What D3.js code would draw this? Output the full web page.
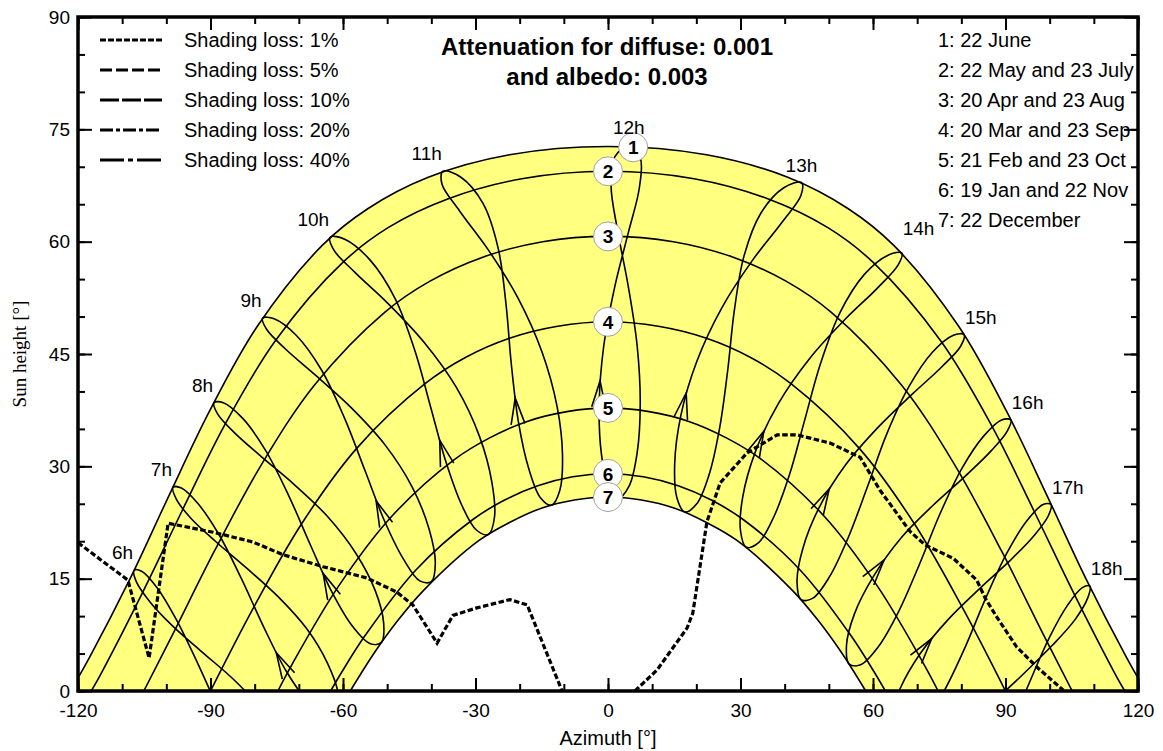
<!DOCTYPE html>
<html>
<head>
<meta charset="utf-8">
<script src="https://cdn.jsdelivr.net/npm/d3@7"></script>
<style>
  body { margin: 0; background: #fff; }
  text { font-family: "Liberation Sans", Arial, sans-serif; }
</style>
</head>
<body>
<div id="chart"></div>
<script>
// sun paths for the 7 dates (azimuth / sun height in degrees)
var pathAz = [
  [-121.7,-117.3,-108.2,-99.4,-90.2,-79.4,-64.7,-54.4,-40.7,-22.3,0,22.3,40.7,54.4,64.7,79.4,90.2,99.4,108.2,117.3,121.7],
  [-117.0,-114.8,-105.5,-96.4,-86.8,-75.4,-60.1,-49.7,-36.3,-19.5,0,19.5,36.3,49.7,60.1,75.4,86.8,96.4,105.5,114.8,117.0],
  [-105.1,-98.7,-89.1,-78.7,-66.4,-50.5,-40.4,-28.5,-14.8,0,14.8,28.5,40.4,50.5,66.4,78.7,89.1,98.7,105.1],
  [-90,-80.1,-69.4,-56.9,-41.5,-32.4,-22.3,-11.4,0,11.4,22.3,32.4,41.5,56.9,69.4,80.1,90],
  [-74.75,-71.5,-61.0,-49.0,-34.8,-26.8,-18.3,-9.3,0,9.3,18.3,26.8,34.8,49.0,61.0,71.5,74.75],
  [-62.8,-60.2,-55.0,-43.6,-30.6,-23.4,-15.9,-8.0,0,8.0,15.9,23.4,30.6,43.6,55.0,60.2,62.8],
  [-58.35,-52.9,-47.6,-41.8,-29.2,-22.3,-15.1,-7.6,0,7.6,15.1,22.3,29.2,41.8,47.6,52.9,58.35]
];
var pathH = [
  [0,4.6,15.0,26.1,37.4,48.7,59.5,64.4,68.6,71.6,72.7,71.6,68.6,64.4,59.5,48.7,37.4,26.1,15.0,4.6,0],
  [0,2.3,13.0,24.1,35.5,46.7,57.2,61.9,65.7,68.4,69.4,68.4,65.7,61.9,57.2,46.7,35.5,24.1,13.0,2.3,0],
  [0,7.4,18.7,30.0,40.9,50.6,54.7,57.9,60.0,60.7,60.0,57.9,54.7,50.6,40.9,30.0,18.7,7.4,0],
  [0,11.3,22.3,32.4,41.0,44.5,47.1,48.7,49.3,48.7,47.1,44.5,41.0,32.4,22.3,11.3,0],
  [0,3.6,14.0,23.3,30.9,33.8,36.0,37.3,37.8,37.3,36.0,33.8,30.9,23.3,14.0,3.6,0],
  [0,2.6,7.4,16.1,22.9,25.5,27.4,28.6,29.0,28.6,27.4,25.5,22.9,16.1,7.4,2.6,0],
  [0,5.1,9.4,13.4,20.1,22.5,24.4,25.5,25.9,25.5,24.4,22.5,20.1,13.4,9.4,5.1,0]
];
var markerAz = [5.7, 0, 0, 0, 0, 0, 0];
var markerH = [72.6, 69.4, 60.7, 49.3, 37.8, 29.0, 25.9];
var dateLabels = ["1: 22 June", "2: 22 May and 23 July", "3: 20 Apr and 23 Aug",
  "4: 20 Mar and 23 Sep", "5: 21 Feb and 23 Oct", "6: 19 Jan and 22 Nov", "7: 22 December"];

// hour lines over the year (22 Jun, 12 Jul, 1 Aug ... 1 Jun)
var hours = [6, 7, 8, 9, 10, 11, 12, 13, 14, 15, 16, 17, 18];
var hourAz = [
  [-107.3,-106.8,-103.7,-98.6,-91.9,-84.7,-78.2,-73.2,-70.5,-70.4,-72.9,-77.3,-82.6,-87.9,-92.9,-97.7,-102.1,-105.6],
  [-98.5,-97.8,-94.5,-88.9,-82.0,-74.7,-68.2,-63.5,-61.1,-61.3,-63.8,-67.9,-72.9,-78.0,-83.0,-88.0,-92.8,-96.6],
  [-89.2,-88.4,-84.6,-78.5,-71.1,-63.5,-57.1,-52.7,-50.8,-51.3,-53.8,-57.8,-62.5,-67.3,-72.3,-77.5,-82.7,-87.1],
  [-78.2,-77.3,-72.9,-66.1,-58.1,-50.4,-44.3,-40.5,-39.1,-40.0,-42.6,-46.3,-50.6,-55.0,-59.7,-64.9,-70.6,-75.6],
  [-62.9,-62.1,-57.3,-49.9,-41.7,-34.3,-29.1,-26.3,-25.7,-27.1,-29.8,-33.1,-36.7,-40.1,-43.7,-48.2,-53.8,-59.5],
  [-37.4,-37.6,-33.6,-27.1,-20.4,-14.9,-11.5,-10.3,-10.9,-12.8,-15.3,-18.0,-20.3,-21.9,-23.1,-24.9,-28.3,-33.3],
  [4.7,1.6,0.7,2.2,4.6,6.6,7.3,6.6,4.8,2.4,0.1,-1.5,-2.0,-1.0,1.5,4.6,7.1,7.3],
  [43.8,39.8,34.6,30.8,28.6,27.1,25.3,22.9,20.1,17.4,15.6,15.1,16.5,20.1,25.8,32.7,39.4,43.7],
  [66.5,63.4,58.0,52.5,48.1,44.5,41.1,37.5,34.1,31.3,30.0,30.5,33.4,38.6,45.8,53.8,61.0,65.7],
  [80.6,78.2,73.4,68.1,63.1,58.7,54.4,50.2,46.4,43.7,42.8,44.1,47.8,53.8,61.3,69.0,75.6,79.8],
  [91.2,89.1,85.0,80.1,75.2,70.5,65.8,61.2,57.2,54.6,54.0,55.8,60.1,66.3,73.6,80.9,86.8,90.4],
  [100.3,98.5,94.8,90.3,85.6,80.9,76.0,71.1,66.9,64.2,63.9,66.2,70.7,77.1,84.2,91.0,96.4,99.7],
  [109.1,107.4,104.1,99.9,95.4,90.7,85.6,80.4,75.9,73.2,73.1,75.6,80.5,87.0,94.1,100.6,105.7,108.6]
];
var hourH = [
  [16.1,14.6,11.9,8.7,5.2,1.5,-2.6,-6.8,-10.7,-13.3,-14.0,-12.4,-8.4,-2.7,3.7,9.5,13.8,16.0],
  [27.2,25.7,23.1,20.0,16.5,12.6,8.3,3.7,-0.3,-2.9,-3.5,-1.5,2.7,8.6,15.0,20.8,25.0,27.1],
  [38.5,37.0,34.5,31.3,27.6,23.3,18.4,13.4,9.1,6.5,6.3,8.6,13.2,19.4,26.1,32.1,36.4,38.5],
  [49.8,48.3,45.6,42.1,37.8,32.8,27.2,21.6,17.1,14.6,14.7,17.6,22.7,29.4,36.5,42.9,47.5,49.7],
  [60.6,58.9,55.9,51.8,46.6,40.5,34.0,27.9,23.2,20.9,21.5,24.8,30.6,37.8,45.4,52.4,57.5,60.3],
  [69.4,67.7,64.1,58.9,52.5,45.2,37.9,31.5,26.8,24.8,25.8,29.8,36.0,43.7,51.7,59.2,65.1,68.6],
  [72.7,71.4,67.4,61.4,54.0,46.1,38.4,31.8,27.4,25.8,27.3,31.7,38.2,45.9,53.9,61.2,67.2,71.2],
  [67.9,67.2,63.8,58.1,50.8,42.8,35.2,28.9,25.0,23.9,25.8,30.3,36.8,44.0,51.2,57.5,62.6,66.2],
  [58.5,58.2,55.6,50.5,43.7,36.1,28.9,23.2,19.8,19.2,21.4,25.9,32.0,38.4,44.5,49.7,53.8,56.9],
  [47.6,47.5,45.2,40.6,34.3,27.2,20.5,15.3,12.4,12.2,14.6,19.0,24.5,30.2,35.3,39.7,43.3,46.0],
  [36.2,36.2,34.0,29.7,23.7,16.9,10.6,5.9,3.5,3.6,6.1,10.3,15.3,20.4,24.8,28.7,32.1,34.7],
  [24.9,24.9,22.7,18.4,12.5,5.9,-0.1,-4.5,-6.5,-6.2,-3.6,0.4,5.0,9.6,13.7,17.4,20.7,23.4],
  [14.0,13.8,11.5,7.1,1.1,-5.4,-11.3,-15.5,-17.3,-16.7,-14.2,-10.4,-6.0,-1.7,2.3,6.1,9.5,12.4]
];

// direction arrows (tip and a point just behind it), hours 7h..17h
var arrowAz = [-75.1,-64.5,-52.5,-38.1,-21.0,-1.8,17.7,35.3,50.1,62.5,73.3];
var arrowH = [5.1,15.7,25.4,33.5,39.1,41.4,39.8,34.7,27.0,17.5,7.0];
var arrowBackAz = [-74.3,-63.8,-51.8,-37.6,-20.8,-1.9,17.3,34.6,49.3,61.6,72.4];
var arrowBackH = [4.2,14.8,24.4,32.5,38.0,40.3,38.7,33.8,26.1,16.8,6.3];

// shading loss 1% line
var lossLeftAz = [-120,-108.7,-103.9,-99.6,-89.4,-80.4,-73.6,-64.5,-54.6,-47.8,-44.2,-38.7,-35.1,-29.7,-22.2,-18.3,-10.4];
var lossLeftH = [19.8,14.8,4.4,22.4,21.2,19.9,18.2,16.6,15.1,13.2,11.5,6.4,10.1,11.1,12.2,11.5,0];
var lossRightAz = [6.1,11.1,17.9,19.2,22.4,25.4,31.5,38.3,42.8,50.3,57.1,61.6,68.4,71.8,78.2,83.5,85.4,88.0,92.5,97.1,103.1];
var lossRightH = [0,2.8,8.4,10.4,22.6,27.8,31.8,34.2,34.2,33.1,31.2,26.8,21.3,19.5,17.7,14.8,12.4,9.9,5.9,3.2,0.1];

var legendLabels = ["Shading loss: 1%", "Shading loss: 5%", "Shading loss: 10%", "Shading loss: 20%", "Shading loss: 40%"];
var legendDash = ["6,2", "12,4", "19,3", "13,3,4,3", "24,4,5,4"];

var xMajor = [-120, -90, -60, -30, 0, 30, 60, 90, 120];
var xMinor = d3.range(-120, 121, 10);
var yMajor = [0, 15, 30, 45, 60, 75, 90];
var yMinor = d3.range(0, 91, 5);

var width = 1163, height = 751;
var x = d3.scaleLinear().domain([-120, 120]).range([78, 1138]);
var y = d3.scaleLinear().domain([0, 90]).range([691, 17]);

var svg = d3.select("#chart").append("svg")
  .attr("width", width)
  .attr("height", height);

svg.append("clipPath").attr("id", "plot")
  .append("rect")
  .attr("x", x(-120)).attr("y", y(90))
  .attr("width", x(120) - x(-120))
  .attr("height", y(0) - y(90));

var g = svg.append("g").attr("clip-path", "url(#plot)");

function pts(az, h) {
  return az.map(function (a, i) { return [x(a), y(h[i])]; });
}
var smooth = d3.line().curve(d3.curveCatmullRom.alpha(0.5));
var loop = d3.line().curve(d3.curveCatmullRomClosed.alpha(0.5));
var straight = d3.line();

// yellow band between 22 June and 22 December
var outer = smooth(pts(pathAz[0], pathH[0]));
var inner = smooth(pts(pathAz[6].slice().reverse(), pathH[6].slice().reverse()));
g.append("path")
  .attr("d", outer + "L" + inner.slice(1) + "Z")
  .attr("fill", "#ffff80");

// date lines
pathAz.forEach(function (az, i) {
  g.append("path")
    .attr("d", smooth(pts(az, pathH[i])))
    .attr("fill", "none")
    .attr("stroke", "#000")
    .attr("stroke-width", 1.6);
});

// hour lines
hourAz.forEach(function (az, i) {
  g.append("path")
    .attr("d", loop(pts(az, hourH[i])))
    .attr("fill", "none")
    .attr("stroke", "#000")
    .attr("stroke-width", 1.6);
});

// arrows
arrowAz.forEach(function (a, i) {
  var p = [x(a), y(arrowH[i])];
  var q = [x(arrowBackAz[i]), y(arrowBackH[i])];
  var ang = Math.atan2(q[1] - p[1], q[0] - p[0]);
  var legs = [-0.26, 0.26].map(function (d) {
    return [p[0] + 27 * Math.cos(ang + d), p[1] + 27 * Math.sin(ang + d)];
  });
  g.append("path")
    .attr("d", straight([legs[0], p, legs[1]]))
    .attr("fill", "none")
    .attr("stroke", "#000")
    .attr("stroke-width", 1.6);
});

// shading loss line
[[lossLeftAz, lossLeftH], [lossRightAz, lossRightH]].forEach(function (s) {
  g.append("path")
    .attr("d", straight(pts(s[0], s[1])))
    .attr("fill", "none")
    .attr("stroke", "#000")
    .attr("stroke-width", 3.2)
    .attr("stroke-dasharray", "5.5,2.5");
});

// date markers
markerAz.forEach(function (a, i) {
  g.append("circle")
    .attr("cx", x(a)).attr("cy", y(markerH[i])).attr("r", 14.5)
    .attr("fill", "#fff").attr("stroke", "#a0a0a0").attr("stroke-width", 1);
  g.append("text")
    .attr("x", x(a)).attr("y", y(markerH[i]) + 7)
    .attr("text-anchor", "middle")
    .attr("font-size", 19).attr("font-weight", "bold")
    .text(i + 1);
});

// hour labels next to the 22 June point
hours.forEach(function (hr, i) {
  var px = x(hourAz[i][0]), py = y(hourH[i][0]);
  var anchor = hr < 12 ? "end" : (hr < 14 ? "middle" : "start");
  var dx = hr < 12 ? -1 : (hr < 14 ? 0 : 1);
  var dy = hr == 14 ? -18 : (hr == 12 ? -13 : -11);
  g.append("text")
    .attr("x", px + dx).attr("y", py + dy)
    .attr("text-anchor", anchor)
    .attr("font-size", 19)
    .text(hr + "h");
});

// date legend (right)
dateLabels.forEach(function (t, i) {
  g.append("text")
    .attr("x", 938).attr("y", 47 + 30 * i)
    .attr("font-size", 20)
    .text(t);
});

// shading legend (left)
legendLabels.forEach(function (t, i) {
  var yy = 40 + 30 * i;
  svg.append("line")
    .attr("x1", 100).attr("x2", 162).attr("y1", yy).attr("y2", yy)
    .attr("stroke", "#000").attr("stroke-width", 3)
    .attr("stroke-dasharray", legendDash[i]);
  svg.append("text")
    .attr("x", 184).attr("y", yy + 7)
    .attr("font-size", 20)
    .text(t);
});

// title
svg.append("text").attr("x", 607).attr("y", 55)
  .attr("text-anchor", "middle").attr("font-size", 24).attr("font-weight", "bold")
  .text("Attenuation for diffuse: 0.001");
svg.append("text").attr("x", 607).attr("y", 85)
  .attr("text-anchor", "middle").attr("font-size", 24).attr("font-weight", "bold")
  .text("and albedo: 0.003");

// axes (ticks point inwards)
var plain = function (d) { return String(d); };
function tidy(sel) {
  sel.select(".domain").remove();
  sel.selectAll("line").attr("stroke-width", 2);
  sel.attr("font-size", 19).attr("font-family", "Liberation Sans, Arial, sans-serif");
  sel.selectAll("text").attr("fill", "#000");
}
svg.append("g").attr("transform", "translate(0," + y(0) + ")")
  .call(d3.axisBottom(x).tickValues(xMinor).tickSize(-7).tickFormat("")).call(tidy);
svg.append("g").attr("transform", "translate(0," + y(0) + ")")
  .call(d3.axisBottom(x).tickValues(xMajor).tickSize(-13).tickPadding(13).tickFormat(plain)).call(tidy);
svg.append("g").attr("transform", "translate(0," + y(90) + ")")
  .call(d3.axisTop(x).tickValues(xMinor).tickSize(-7).tickFormat("")).call(tidy);
svg.append("g").attr("transform", "translate(0," + y(90) + ")")
  .call(d3.axisTop(x).tickValues(xMajor).tickSize(-13).tickFormat("")).call(tidy);
svg.append("g").attr("transform", "translate(" + x(-120) + ",0)")
  .call(d3.axisLeft(y).tickValues(yMinor).tickSize(-7).tickFormat("")).call(tidy);
svg.append("g").attr("transform", "translate(" + x(-120) + ",0)")
  .call(d3.axisLeft(y).tickValues(yMajor).tickSize(-14).tickPadding(8).tickFormat(plain)).call(tidy);
svg.append("g").attr("transform", "translate(" + x(120) + ",0)")
  .call(d3.axisRight(y).tickValues(yMinor).tickSize(-7).tickFormat("")).call(tidy);
svg.append("g").attr("transform", "translate(" + x(120) + ",0)")
  .call(d3.axisRight(y).tickValues(yMajor).tickSize(-14).tickFormat("")).call(tidy);

// frame
svg.append("rect")
  .attr("x", x(-120)).attr("y", y(90))
  .attr("width", x(120) - x(-120)).attr("height", y(0) - y(90))
  .attr("fill", "none").attr("stroke", "#000").attr("stroke-width", 3.5);

// axis titles
svg.append("text").attr("x", x(0)).attr("y", 745)
  .attr("text-anchor", "middle").attr("font-size", 20)
  .text("Azimuth [°]");
svg.append("text")
  .attr("transform", "translate(26," + y(45) + ") rotate(-90)")
  .attr("text-anchor", "middle").attr("font-size", 19)
  .style("font-family", "'Liberation Serif', 'Times New Roman', serif")
  .text("Sun height [°]");
</script>
</body>
</html>
